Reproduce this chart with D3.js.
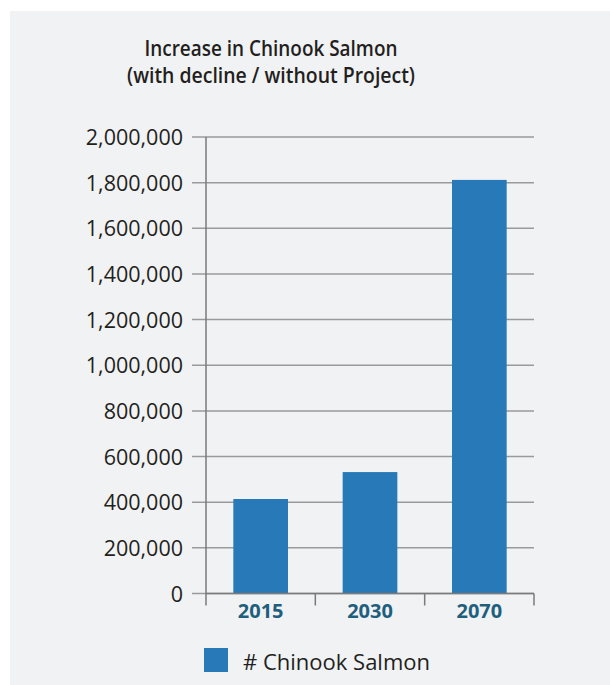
<!DOCTYPE html>
<html>
<head>
<meta charset="utf-8">
<script src="https://cdn.jsdelivr.net/npm/d3@7"></script>
<style>
  html, body { margin: 0; padding: 0; background: #ffffff; }
  svg { display: block; }
  text { font-family: "Open Sans", "Noto Sans", sans-serif; }
</style>
</head>
<body>
<svg id="chart" width="610" height="685"></svg>
<script>
const categories = ["2015", "2030", "2070"];
const values = [414000, 532000, 1812000];
const yTicks = [0, 200000, 400000, 600000, 800000, 1000000, 1200000, 1400000, 1600000, 1800000, 2000000];
const titleLines = ["Increase in Chinook Salmon", "(with decline / without Project)"];
const seriesName = "# Chinook Salmon";

(function () {
const svg = d3.select("#chart");
svg.append("rect").attr("x", 10).attr("y", 11).attr("width", 600).attr("height", 674).attr("fill", "#f1f2f4");

const pLeft = 206, pRight = 534, pTop = 137, pBottom = 593.5;
const x = d3.scaleBand().domain(categories).range([pLeft, pRight]).paddingInner(0.5).paddingOuter(0.25);
const y = d3.scaleLinear().domain([0, 2000000]).range([pBottom, pTop]);

// title (two lines, narrowed to match the reference's condensed face)
const titleWidths = [253, 288];
svg.append("g").selectAll("text").data(titleLines).join("text")
  .attr("text-anchor", "middle")
  .attr("fill", "#231f20").attr("font-size", 22).attr("font-weight", 600)
  .attr("x", 271).attr("y", (d, i) => 56 + i * 26.7)
  .attr("textLength", (d, i) => titleWidths[i]).attr("lengthAdjust", "spacingAndGlyphs")
  .text(d => d);

// gridlines
svg.append("g").selectAll("line").data(yTicks).join("line")
  .attr("x1", pLeft - 14).attr("x2", pRight)
  .attr("y1", d => y(d)).attr("y2", d => y(d))
  .attr("stroke", "#9a9a9a").attr("stroke-width", 1.5);

// y labels
const yAxis = d3.axisLeft(y).tickValues(yTicks).tickFormat(d3.format(",")).tickSize(0).tickPadding(0);
const gy = svg.append("g").attr("transform", `translate(${pLeft - 23},0)`).call(yAxis);
gy.select(".domain").remove();
gy.selectAll("text").attr("font-size", 21.5).attr("fill", "#231f20").attr("font-family", "Open Sans, sans-serif").attr("dy", "0.35em");

// bars
svg.append("g").selectAll("rect").data(values).join("rect")
  .attr("x", (d, i) => x(categories[i]))
  .attr("width", x.bandwidth())
  .attr("y", d => y(d))
  .attr("height", d => y(0) - y(d))
  .attr("fill", "#2779b7");

// y axis line
svg.append("line").attr("x1", pLeft).attr("x2", pLeft).attr("y1", pTop).attr("y2", pBottom + 12)
  .attr("stroke", "#7a7a7a").attr("stroke-width", 1.5);

// x axis category separators
const seps = [pLeft + (pRight - pLeft) / 3, pLeft + 2 * (pRight - pLeft) / 3, pRight];
svg.append("g").selectAll("line").data(seps).join("line")
  .attr("x1", d => d).attr("x2", d => d).attr("y1", pBottom).attr("y2", pBottom + 12)
  .attr("stroke", "#7a7a7a").attr("stroke-width", 1.5);
svg.append("line").attr("x1", pLeft).attr("x2", pRight).attr("y1", pBottom).attr("y2", pBottom)
  .attr("stroke", "#7a7a7a").attr("stroke-width", 1.5);

// x labels
const xAxis = d3.axisBottom(x).tickSize(0).tickPadding(0);
const gx = svg.append("g").attr("transform", `translate(0,${pBottom})`).call(xAxis);
gx.select(".domain").remove();
gx.selectAll("text").attr("font-size", 20).attr("font-weight", 700).attr("fill", "#1f5f7e")
  .attr("font-family", "Open Sans, sans-serif").attr("dy", "0").attr("y", 24);

// legend
svg.append("rect").attr("x", 204).attr("y", 648).attr("width", 24).attr("height", 24).attr("fill", "#2779b7");
svg.append("text").attr("x", 243).attr("y", 670).attr("font-size", 22).attr("fill", "#231f20").text(seriesName);
})();
</script>
</body>
</html>
